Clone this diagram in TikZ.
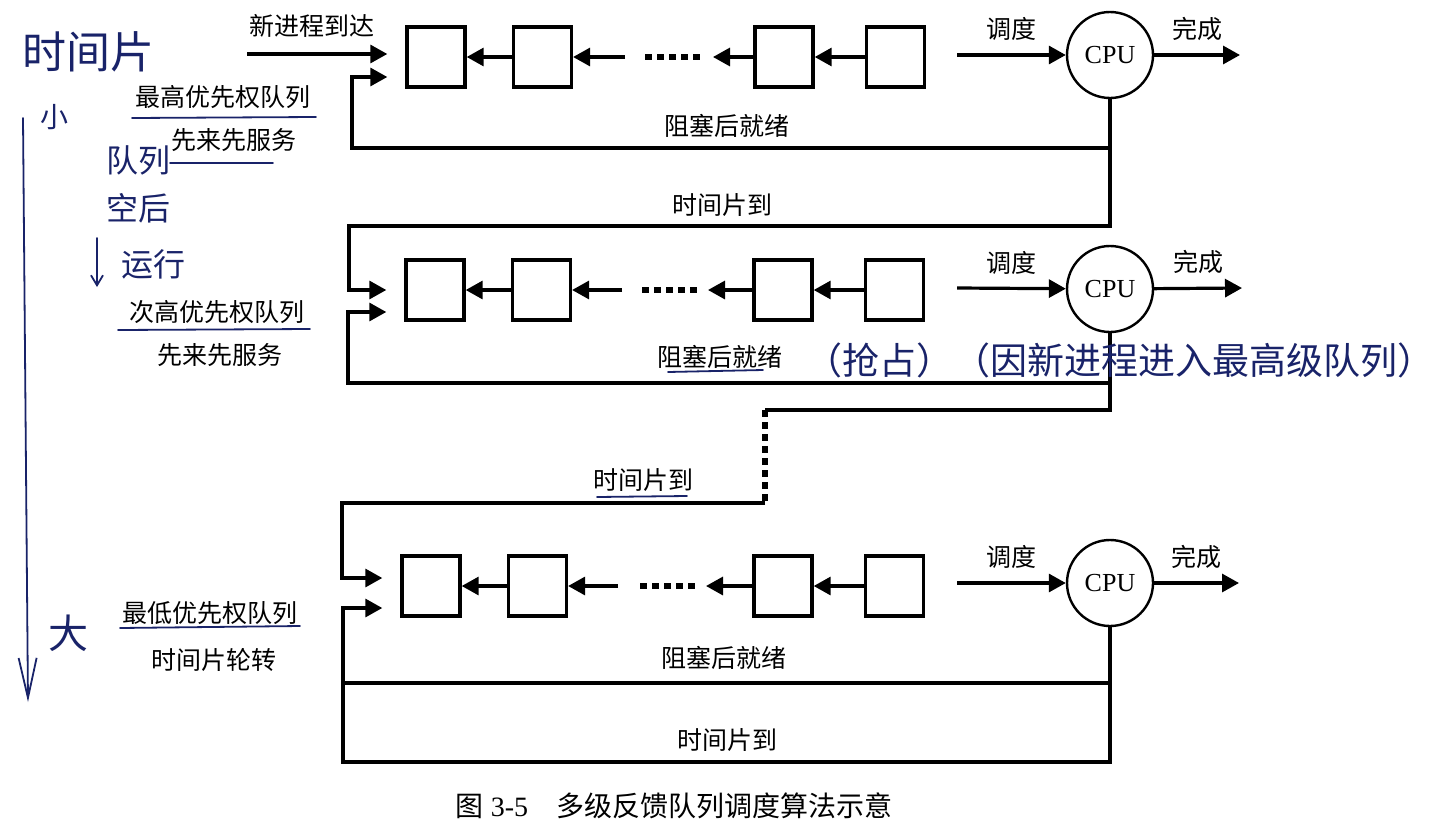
\documentclass[tikz,border=0pt]{standalone}
\usepackage{fontspec}
\setmainfont{Liberation Serif}
\newfontfamily\cjk{Noto Sans CJK SC}
\usepackage{tikz}
\usetikzlibrary{positioning}
\usetikzlibrary{calc}
\usetikzlibrary{arrows.meta}
\definecolor{ink}{RGB}{25,35,105}

\tikzset{
	qbox/.style={draw, line width=1.7pt, minimum width=29pt, minimum height=30pt, inner sep=0pt},
	cpu/.style={draw, circle, line width=1.2pt, minimum size=43pt, inner sep=0pt, font=\fontsize{13pt}{15pt}\selectfont},
	lbl/.style={font=\cjk\fontsize{12.5pt}{15pt}\selectfont},
	hand/.style={text=ink, font=\cjk\fontsize{16pt}{18pt}\selectfont},
	wire/.style={line width=1.6pt},
	arr/.style={line width=1.6pt, -{Triangle[length=8.5pt,width=9pt]}},
	dotline/.style={line width=3pt, dash pattern=on 3.5pt off 2.5pt},
	pen/.style={ink, line width=0.9pt, line cap=round}
}

\begin{document}
\begin{tikzpicture}[x=0.5pt, y=-0.5pt]
\useasboundingbox (0,0) rectangle (1439,830);

% highest priority queue
\node[qbox] (b11) at (436,57) {};
\node[qbox, right=22.5pt of b11] (b12) {};
\node[qbox] (b13) at (784,57) {};
\node[qbox, right=25pt of b13] (b14) {};
\node[cpu] (cpu1) at (1110,55) {CPU};
\coordinate (e1) at (625,57);
\coordinate (f1) at (713,57);
\coordinate (d1l) at (645,57);
\coordinate (d1r) at (700,57);
\coordinate (s1) at (957,55);
\coordinate (o1) at (1240,55);
\coordinate (new) at (247,54);
\coordinate (l1) at (352,148);
\coordinate (j1) at (cpu1.south |- l1);
\coordinate (t1) at (349,226);

\draw[arr] (b12) -- (b11);
\draw[arr] (e1) -- (b12);
\draw[dotline] (d1l) -- (d1r);
\draw[arr] (b13) -- (f1);
\draw[arr] (b14) -- (b13);
\draw[arr] (s1) -- (cpu1) node[lbl, midway, above=3pt] (sched1) {调度};
\draw[arr] (cpu1) -- (o1) node[lbl, midway, above=3pt] (done1) {完成};
\draw[arr, shorten >=9pt] (new) -- (new -| b11.west);
\draw[arr, shorten >=9pt] (cpu1) |- (l1) |- ([yshift=-10pt]b11.west);

\node[lbl] (newlbl) at (312,26) {新进程到达};
\node[lbl] (blk1) at (727,126) {阻塞后就绪};
\node[lbl] (ts1) at (722,205) {时间片到};
\node[lbl] (name1) at (223,97) {最高优先权队列};
\node[lbl] (rule1) at (234,140) {先来先服务};

% second queue
\node[qbox] (b21) at (435,290) {};
\node[qbox, right=22.5pt of b21] (b22) {};
\node[qbox] (b23) at (783,290) {};
\node[qbox, right=25pt of b23] (b24) {};
\node[cpu] (cpu2) at (1110,289) {CPU};
\coordinate (e2) at (622,290);
\coordinate (f2) at (708,290);
\coordinate (d2l) at (642,290);
\coordinate (d2r) at (697,290);
\coordinate (s2) at (957,288);
\coordinate (o2) at (1242,288);
\coordinate (l2) at (348,383);
\coordinate (j2) at (cpu2.south |- l2);
\coordinate (ta2) at (765,410);
\coordinate (tb2) at (765,503);
\coordinate (tc2) at (342,503);

\draw[arr, shorten >=9pt] (j1) |- (t1) |- (b21.west);
\draw[arr] (b22) -- (b21);
\draw[arr] (e2) -- (b22);
\draw[dotline] (d2l) -- (d2r);
\draw[arr] (b23) -- (f2);
\draw[arr] (b24) -- (b23);
\draw[arr] (s2) -- (cpu2) node[lbl, midway, above=3pt] (sched2) {调度};
\draw[arr] (cpu2) -- (o2) node[lbl, midway, above=3pt] (done2) {完成};
\draw[arr, shorten >=9pt] (cpu2) |- (l2) |- ([yshift=-11pt]b21.west);

\node[lbl] (blk2) at (720,357) {阻塞后就绪};
\node[lbl] (ts2) at (643,480) {时间片到};
\node[lbl] (name2) at (217,312) {次高优先权队列};
\node[lbl] (rule2) at (220,355) {先来先服务};

% lowest queue
\node[qbox] (b31) at (431,586) {};
\node[qbox, right=22.5pt of b31] (b32) {};
\node[qbox] (b33) at (783,586) {};
\node[qbox, right=25pt of b33] (b34) {};
\node[cpu] (cpu3) at (1110,583) {CPU};
\coordinate (e3) at (618,586);
\coordinate (f3) at (706,586);
\coordinate (d3l) at (640,586);
\coordinate (d3r) at (695,586);
\coordinate (s3) at (957,583);
\coordinate (o3) at (1239,583);
\coordinate (l3) at (343,683);
\coordinate (j3) at (cpu3.south |- l3);
\coordinate (t3) at (343,762);

\draw[wire] (j2) |- (ta2);
\draw[dotline] (ta2) -- (tb2);
\draw[arr, shorten >=9pt] (tb2) -- (tc2) |- ([yshift=4pt]b31.west);
\draw[arr] (b32) -- (b31);
\draw[arr] (e3) -- (b32);
\draw[dotline] (d3l) -- (d3r);
\draw[arr] (b33) -- (f3);
\draw[arr] (b34) -- (b33);
\draw[arr] (s3) -- (cpu3) node[lbl, midway, above=3pt] (sched3) {调度};
\draw[arr] (cpu3) -- (o3) node[lbl, midway, above=3pt] (done3) {完成};
\draw[wire] (cpu3) |- (l3);
\draw[arr, shorten >=9pt] (j3) |- (t3) |- ([yshift=-11pt]b31.west);

\node[lbl] (blk3) at (724,658) {阻塞后就绪};
\node[lbl] (ts3) at (727,740) {时间片到};
\node[lbl] (name3) at (210,613) {最低优先权队列};
\node[lbl] (rule3) at (214,660) {时间片轮转};

\node[font=\fontsize{14pt}{16pt}\selectfont] (cap) at (674,806) {{\cjk 图} 3-5\hspace{1em}{\cjk 多级反馈队列调度算法示意}};

% handwritten notes
\node[hand, font=\cjk\fontsize{22pt}{24pt}\selectfont] (hslice) at (88,52) {时间片};
\node[hand, font=\cjk\fontsize{14pt}{16pt}\selectfont] (hsmall) at (54,117) {小};
\node[hand, font=\cjk\fontsize{20pt}{22pt}\selectfont] (hbig) at (68,633) {大};
\node[hand] (hq) at (138,160) {队列};
\node[hand] (hempty) at (138,208) {空后};
\node[hand] (hrun) at (153,264) {运行};
\node[hand, font=\cjk\fontsize{18.5pt}{20pt}\selectfont] (hpre) at (1120,360) {（抢占）（因新进程进入最高级队列）};
\coordinate (htop) at (23,118);
\coordinate (hbot) at (28,702);
\coordinate (hat) at (97,238);
\coordinate (hab) at (97,287);
\draw[pen, -{Straight Barb[length=20pt,width=9pt]}] (htop) -- (hbot);
\draw[pen, -{Straight Barb[length=5pt,width=6pt]}] (hat) -- (hab);
\draw[pen] (132,118) -- (316,117);
\draw[pen] (170,163) -- (273,163);
\draw[pen] (118,330) -- (310,329);
\draw[pen] (668,372) -- (763,370);
\draw[pen] (597,497) -- (687,496);
\draw[pen] (120,628) -- (300,626);

\end{tikzpicture}
\end{document}
